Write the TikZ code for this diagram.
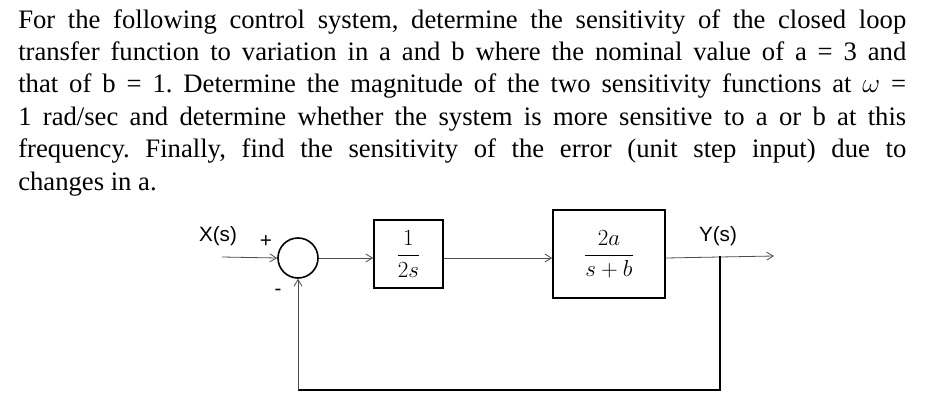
\documentclass[tikz,border=0pt]{standalone}
\usepackage{fontspec}
\setmainfont{Liberation Serif}
\newfontfamily\sansf{Liberation Sans}
\usetikzlibrary{arrows.meta}
\begin{document}
\begin{tikzpicture}[x=0.75pt,y=-0.75pt,
  blk/.style={draw,line width=1.2pt,inner sep=0pt},
  sig/.style={draw=black!70,line width=0.6pt,-{Straight Barb[length=5pt,width=6pt]}},
  wire/.style={draw=black!70,line width=0.6pt},
  lbl/.style={font=\sansf\fontsize{15.5}{17}\selectfont,inner sep=0pt}]
\useasboundingbox (0,0) rectangle (940,418);
\node[anchor=north west,inner sep=0pt] (txt) at (18,9) {\parbox{666pt}{\frenchspacing\fontsize{20}{24.3}\selectfont
For the following control system, determine the sensitivity of the closed loop\linebreak
transfer function to variation in a and b where the nominal value of a = 3 and\linebreak
that of b = 1. Determine the magnitude of the two sensitivity functions at $\omega$ =\linebreak
1 rad/sec and determine whether the system is more sensitive to a or b at this\linebreak
frequency. Finally, find the sensitivity of the error (unit step input) due to\linebreak
changes in a.}};
\node[circle,draw,line width=1.2pt,minimum size=30pt,inner sep=0pt] (sum) at (298,258) {};
\node[blk,minimum width=51.75pt,minimum height=51pt] (g1) at (408.5,254) {\fontsize{17}{19}\selectfont$\displaystyle\frac{1}{2s}$};
\node[blk,minimum width=84pt,minimum height=66pt] (g2) at (609,254) {\fontsize{17}{19}\selectfont$\displaystyle\frac{2a}{s+b}$};
\coordinate (in) at (222,257);
\coordinate (out) at (774,256);
\coordinate (tap) at (720,256);
\coordinate (bot) at (720,390);
\node[lbl] (xs) at (218,236) {X(s)};
\node[lbl] (ys) at (718,236) {Y(s)};
\node[lbl] (plus) at (266,242) {+};
\node[lbl] (minus) at (278,292) {-};
\draw[sig] (in) -- (sum.west);
\draw[sig] (sum.east) -- (g1.west |- sum.east);
\draw[sig] (g1.east |- sum.east) -- (g2.west |- sum.east);
\draw[sig] (g2.east |- sum.east) -- (out);
\draw[wire,line width=1.2pt,draw=black] (tap) -- (bot) -- (bot -| sum.south);
\draw[sig] (bot -| sum.south) -- (sum.south);
\end{tikzpicture}
\end{document}
